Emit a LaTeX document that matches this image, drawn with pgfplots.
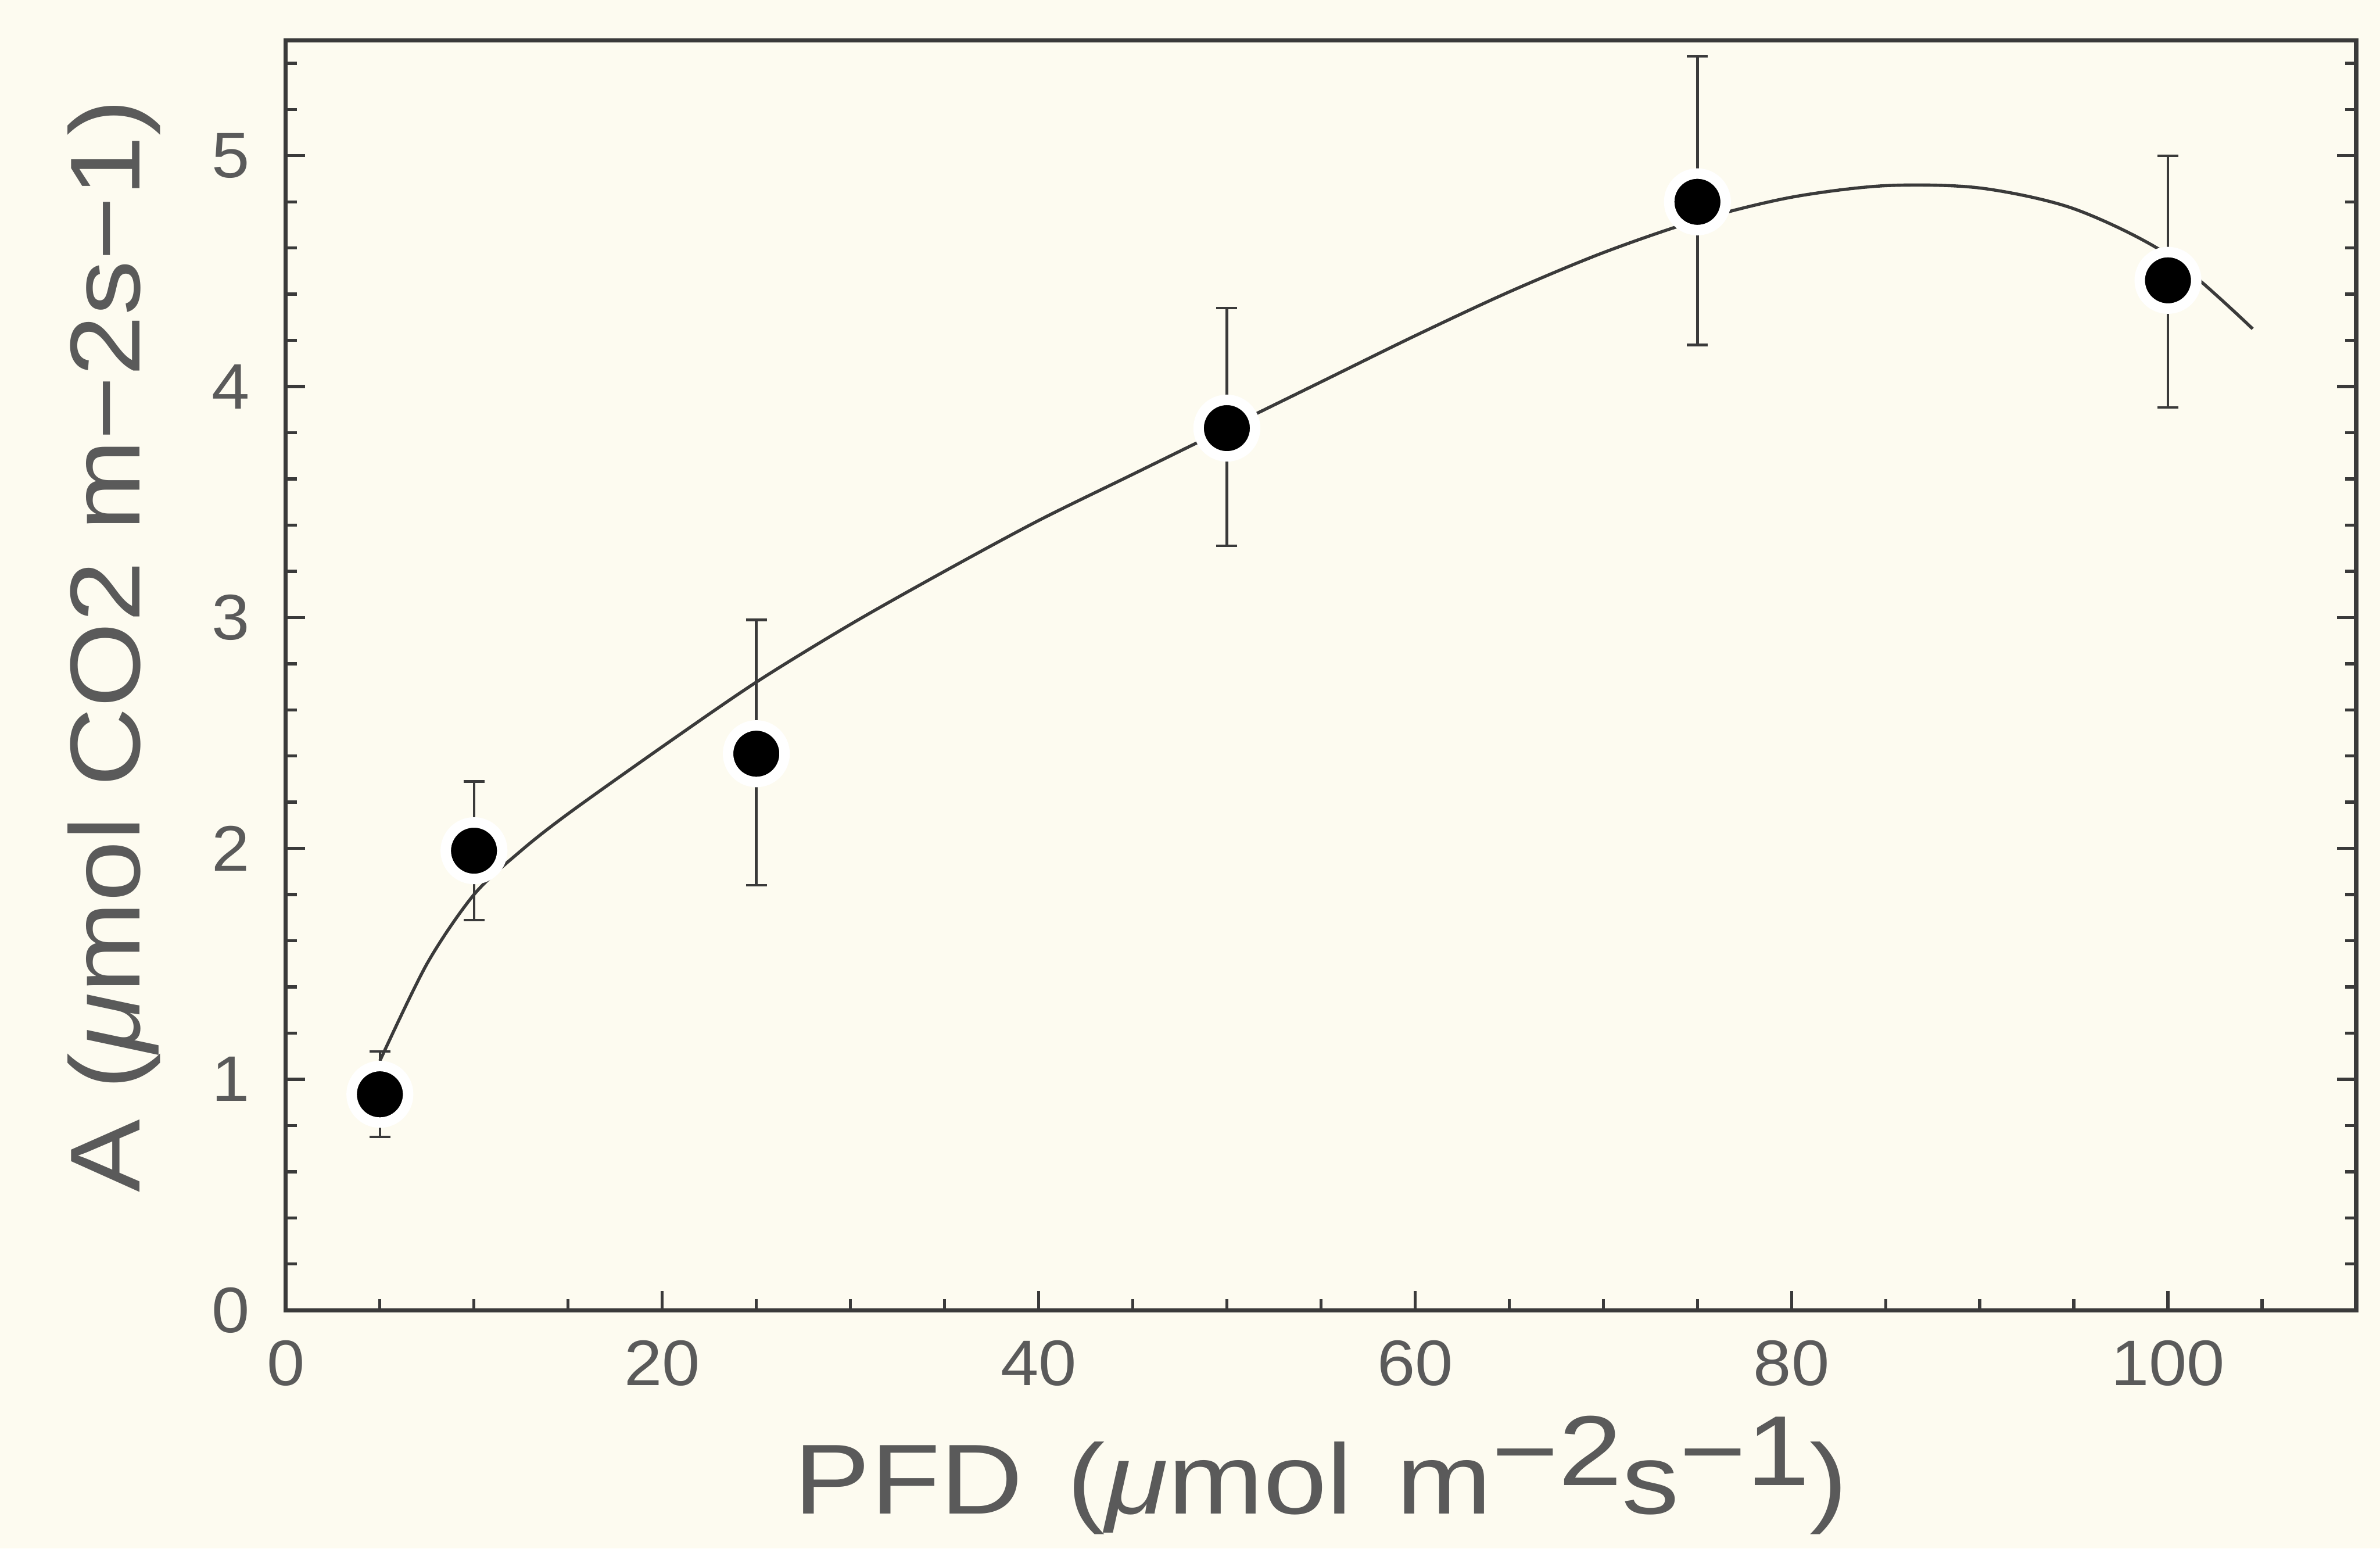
\documentclass[border=0pt]{standalone}
\usepackage{pgfplots}
\pgfplotsset{compat=1.18}
\usepackage{fontspec}
\setmainfont{Liberation Sans}
\newfontfamily\labelfont[FakeStretch=1.1]{Liberation Sans}
\newfontfamily\xlabelfont[FakeStretch=1.15,WordSpace=1.4]{Liberation Sans}
\newfontfamily\tickfont[FakeStretch=1.06]{Liberation Sans}
\definecolor{bgc}{HTML}{FDFBF0}
\definecolor{txt}{HTML}{5A5A5A}
\definecolor{ln}{HTML}{3A3A3A}
\pagecolor{bgc}
\begin{document}
\begin{tikzpicture}
\begin{axis}[
 width=13.91cm, height=8.53cm, scale only axis,
 xmin=0, xmax=110, ymin=0, ymax=5.5,
 xtick={0,20,...,100}, ytick={0,1,...,5},
 minor xtick={5,10,...,105}, minor ytick={0.2,0.4,...,5.4},
 xtick pos=left, ytick pos=both,
 tick align=inside,
 major tick length=0.13cm, minor tick length=0.075cm,
 axis line style={ln, line width=0.8pt},
 every tick/.append style={ln, line width=0.6pt},
 tick label style={font=\tickfont\fontsize{12.3}{14}\selectfont, text=txt},
 /pgf/number format/assume math mode=true,
 xticklabel style={yshift=-0.08cm},
 yticklabel style={xshift=-0.12cm},
 label style={font=\labelfont\fontsize{19}{22}\selectfont, text=txt},
 xlabel={PFD ({\itshape μ}mol m\raisebox{0.19cm}{−2}s\raisebox{0.19cm}{−1})},
 ylabel={A ({\itshape μ}mol CO2 m−2s−1)},
 xlabel style={font=\xlabelfont\fontsize{19}{22}\selectfont, at={(axis description cs:0.5,-0.13)}, anchor=center},
 ylabel style={at={(axis description cs:-0.083,0.523)}, anchor=center},
]
\addplot[only marks, mark=*, mark size=5.4pt,
  mark options={fill=black, draw=white, line width=2pt},
  error bars/.cd, y dir=both, y explicit,
  error bar style={ln, line width=0.5pt},
  error mark options={rotate=90, mark size=2pt, ln, line width=0.5pt}]
  table[x=x, y=y, y error plus=ep, y error minus=em] {
x y ep em
5 0.935 0.185 0.185
10 1.99 0.30 0.30
25 2.41 0.58 0.57
50 3.82 0.52 0.51
75 4.80 0.63 0.62
100 4.46 0.54 0.55
};
\addplot[ln, line width=0.6pt, smooth] coordinates {
(5,1.08) (7.5,1.50) (10,1.80) (12.5,1.99) (15,2.15) (20,2.44) (25,2.72)
(30,2.97) (35,3.20) (40,3.42) (45,3.62) (50,3.82) (55,4.02) (60,4.22)
(65,4.41) (70,4.58) (75,4.72) (80,4.82) (85,4.87) (90,4.86) (95,4.77)
(100,4.57) (104.5,4.25)
};
\end{axis}
\pgfresetboundingbox
\path ([shift={(-1.92cm,-1.60cm)}]current axis.south west) rectangle ([shift={(0.16cm,0.27cm)}]current axis.north east);
\end{tikzpicture}
\end{document}
